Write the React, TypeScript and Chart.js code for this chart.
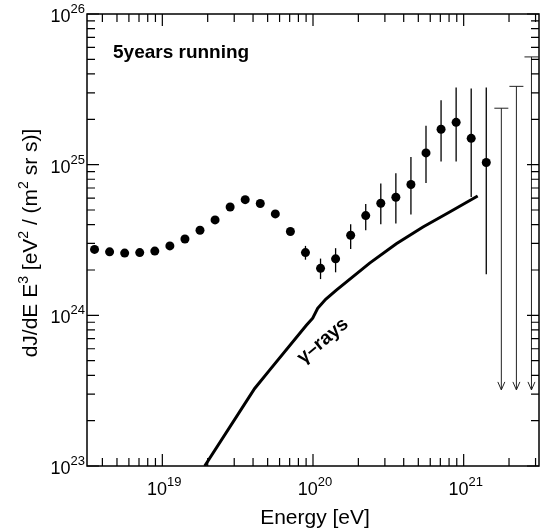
import React, { useEffect, useRef } from "react";
import { Chart, registerables } from "chart.js";

Chart.register(...registerables);

// ---- data (energies as log10(E/eV)) ----
const energyExp = [18.55, 18.65, 18.75, 18.85, 18.95, 19.05, 19.15, 19.25, 19.35, 19.45, 19.55, 19.65, 19.75, 19.85, 19.95, 20.05, 20.15, 20.25, 20.35, 20.45, 20.55, 20.65, 20.75, 20.85, 20.95, 21.05, 21.15];
const flux = [2.74e24, 2.64e24, 2.59e24, 2.61e24, 2.67e24, 2.89e24, 3.21e24, 3.67e24, 4.3e24, 5.24e24, 5.86e24, 5.52e24, 4.71e24, 3.6e24, 2.61e24, 2.05e24, 2.37e24, 3.4e24, 4.59e24, 5.55e24, 6.08e24, 7.38e24, 1.197e25, 1.718e25, 1.91e25, 1.496e25, 1.033e25];
const fluxHi = [null, null, null, null, null, null, null, null, null, null, null, null, null, null, 2.89e24, 2.38e24, 2.79e24, 4.03e24, 5.48e24, 7.5e24, 8.77e24, 1.125e25, 1.816e25, 2.673e25, 3.251e25, 3.199e25, 3.251e25];
const fluxLo = [null, null, null, null, null, null, null, null, null, null, null, null, null, null, 2.34e24, 1.74e24, 1.93e24, 2.76e24, 3.67e24, 4.03e24, 4.07e24, 4.67e24, 7.57e24, 1.05e25, 1.05e25, 6.11e24, 1.875e24];

const limitExp = [21.25, 21.35, 21.45];
const limitFlux = [2.37e25, 3.31e25, 5.19e25];
const limitArrowTo = [3.2e23, 3.2e23, 3.2e23];

const gammaExp = [19.281, 19.613, 19.712, 19.956, 19.998, 20.031, 20.084, 20.155, 20.376, 20.553, 20.73, 20.907, 21.093];
const gammaFlux = [1.0e23, 3.27e23, 4.33e23, 8.59e23, 9.57e23, 1.114e24, 1.279e24, 1.469e24, 2.22e24, 2.99e24, 3.86e24, 4.85e24, 6.19e24];

const xTickExps = [19, 20, 21];
const yTickExps = [23, 24, 25, 26];

const xMinExp = 18.5;
const xMaxExp = 21.5;
const yMinExp = 23;
const yMaxExp = 26;

const FONT = "'Liberation Sans', Arial, Helvetica, sans-serif";

const drawPlugin = {
  id: "customDraw",
  beforeDatasetsDraw(chart: any) {
    const { ctx, scales } = chart;
    const x = scales.x;
    const y = scales.y;
    ctx.save();
    ctx.strokeStyle = "#000";
    ctx.lineWidth = 1.3;
    for (let i = 0; i < energyExp.length; i++) {
      const hi = fluxHi[i];
      const lo = fluxLo[i];
      if (hi == null || lo == null) continue;
      const px = x.getPixelForValue(Math.pow(10, energyExp[i]));
      ctx.beginPath();
      ctx.moveTo(px, y.getPixelForValue(hi));
      ctx.lineTo(px, y.getPixelForValue(lo));
      ctx.stroke();
    }
    ctx.lineWidth = 1;
    ctx.strokeStyle = "#222";
    for (let j = 0; j < limitExp.length; j++) {
      const px = x.getPixelForValue(Math.pow(10, limitExp[j]));
      const top = y.getPixelForValue(limitFlux[j]);
      const bot = y.getPixelForValue(limitArrowTo[j]);
      ctx.beginPath();
      ctx.moveTo(px, top);
      ctx.lineTo(px, bot);
      ctx.moveTo(px - 7, top);
      ctx.lineTo(px + 7, top);
      ctx.moveTo(px - 3.5, bot - 8);
      ctx.lineTo(px, bot);
      ctx.lineTo(px + 3.5, bot - 8);
      ctx.stroke();
    }
    ctx.restore();
  },
  afterDraw(chart: any) {
    const { ctx, chartArea, scales } = chart;
    const x = scales.x;
    const y = scales.y;
    const { left, right, top, bottom } = chartArea;
    ctx.save();
    ctx.strokeStyle = "#000";
    ctx.fillStyle = "#000";
    ctx.lineWidth = 1.5;
    ctx.strokeRect(left, top, right - left, bottom - top);

    // ticks
    ctx.lineWidth = 1.2;
    const major = 12;
    const minor = 8;
    ctx.beginPath();
    for (let n = Math.floor(xMinExp); n <= Math.ceil(xMaxExp); n++) {
      for (let m = 1; m <= 9; m++) {
        const v = m * Math.pow(10, n);
        const lv = Math.log10(v);
        if (lv < xMinExp - 1e-9 || lv > xMaxExp + 1e-9) continue;
        const px = x.getPixelForValue(v);
        const len = m === 1 ? major : minor;
        ctx.moveTo(px, bottom);
        ctx.lineTo(px, bottom - len);
        ctx.moveTo(px, top);
        ctx.lineTo(px, top + len);
      }
    }
    for (let n = yMinExp; n <= yMaxExp; n++) {
      for (let m = 1; m <= 9; m++) {
        const v = m * Math.pow(10, n);
        const lv = Math.log10(v);
        if (lv < yMinExp - 1e-9 || lv > yMaxExp + 1e-9) continue;
        const py = y.getPixelForValue(v);
        const len = m === 1 ? major : minor;
        ctx.moveTo(left, py);
        ctx.lineTo(left + len, py);
        ctx.moveTo(right, py);
        ctx.lineTo(right - len, py);
      }
    }
    ctx.stroke();

    // tick labels
    const baseFont = `18px ${FONT}`;
    const supFont = `13px ${FONT}`;
    ctx.textBaseline = "alphabetic";
    ctx.textAlign = "left";
    for (const e of xTickExps) {
      const px = x.getPixelForValue(Math.pow(10, e));
      ctx.font = baseFont;
      const w1 = ctx.measureText("10").width;
      ctx.font = supFont;
      const w2 = ctx.measureText(String(e)).width;
      const x0 = px + 2 - (w1 + w2) / 2;
      ctx.font = baseFont;
      ctx.fillText("10", x0, bottom + 29);
      ctx.font = supFont;
      ctx.fillText(String(e), x0 + w1, bottom + 20);
    }
    for (const e of yTickExps) {
      const py = y.getPixelForValue(Math.pow(10, e));
      ctx.font = baseFont;
      const w1 = ctx.measureText("10").width;
      ctx.font = supFont;
      const w2 = ctx.measureText(String(e)).width;
      const xr = left - 2;
      ctx.font = baseFont;
      ctx.fillText("10", xr - w2 - w1, py + 8);
      ctx.font = supFont;
      ctx.fillText(String(e), xr - w2, py - 1);
    }

    // x title
    ctx.font = `21px ${FONT}`;
    ctx.textAlign = "center";
    ctx.fillText("Energy [eV]", (left + right) / 2 + 2, 524);

    // y title with superscripts
    const parts: [string, boolean][] = [
      ["dJ/dE E", false],
      ["3", true],
      [" [eV", false],
      ["2", true],
      [" / (m", false],
      ["2", true],
      [" sr s)]", false],
    ];
    const tFont = `21px ${FONT}`;
    const sFont = `14px ${FONT}`;
    let total = 0;
    const widths: number[] = [];
    for (const [t, s] of parts) {
      ctx.font = s ? sFont : tFont;
      const w = ctx.measureText(t).width;
      widths.push(w);
      total += w;
    }
    ctx.save();
    ctx.translate(37, (top + bottom) / 2 + 3);
    ctx.rotate(-Math.PI / 2);
    ctx.textAlign = "left";
    let cx = -total / 2;
    parts.forEach(([t, s], i) => {
      ctx.font = s ? sFont : tFont;
      ctx.fillText(t, cx, s ? -9 : 0);
      cx += widths[i];
    });
    ctx.restore();

    // annotations
    ctx.font = `bold 19px ${FONT}`;
    ctx.textAlign = "left";
    ctx.fillText("5years running", 113, 58);

    ctx.save();
    ctx.translate(323, 341);
    ctx.rotate((-40 * Math.PI) / 180);
    ctx.textAlign = "center";
    ctx.textBaseline = "middle";
    ctx.font = `bold 19px ${FONT}`;
    ctx.fillText("\u03b3\u2013rays", 0, 0);
    ctx.restore();

    ctx.restore();
  },
};

export default function App() {
  const ref = useRef<HTMLCanvasElement>(null);
  useEffect(() => {
    document.body.style.margin = "0";
    const pts = energyExp.map((e, i) => ({ x: Math.pow(10, e), y: flux[i] }));
    const gamma = gammaExp.map((e, i) => ({ x: Math.pow(10, e), y: gammaFlux[i] }));
    const chart = new Chart(ref.current!, {
      type: "scatter",
      data: {
        datasets: [
          {
            label: "gamma",
            data: gamma,
            showLine: true,
            borderColor: "#000",
            borderWidth: 3,
            pointRadius: 0,
            tension: 0,
            fill: false,
          },
          {
            label: "flux",
            data: pts,
            showLine: false,
            pointRadius: 4.5,
            pointBackgroundColor: "#000",
            pointBorderWidth: 0,
            borderColor: "#000",
          },
        ],
      },
      options: {
        responsive: false,
        animation: false,
        devicePixelRatio: 1,
        layout: { padding: { left: 87, right: 7, top: 14, bottom: 64 } },
        plugins: { legend: { display: false }, tooltip: { enabled: false } },
        events: [],
        scales: {
          x: {
            type: "logarithmic",
            display: false,
            min: Math.pow(10, xMinExp),
            max: Math.pow(10, xMaxExp),
          },
          y: {
            type: "logarithmic",
            display: false,
            min: Math.pow(10, yMinExp),
            max: Math.pow(10, yMaxExp),
          },
        },
      },
      plugins: [drawPlugin],
    });
    return () => chart.destroy();
  }, []);
  return (
    <canvas
      ref={ref}
      width={546}
      height={530}
      style={{ display: "block", width: "546px", height: "530px" }}
    />
  );
}
